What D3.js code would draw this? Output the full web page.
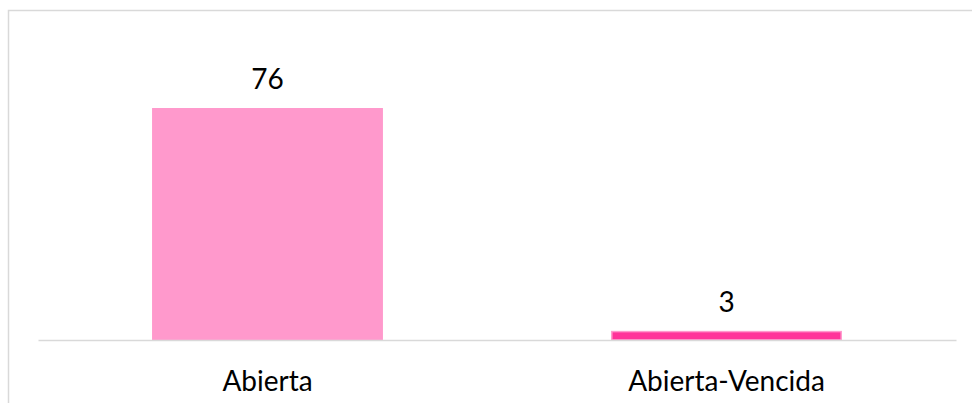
<!DOCTYPE html>
<html>
<head>
<meta charset="utf-8">
<script src="https://cdn.jsdelivr.net/npm/d3@7"></script>
<style>
html,body{margin:0;padding:0;background:#fff;}
svg{display:block;}
text{font-family:Lato,"Open Sans",sans-serif;fill:#000;}
</style>
</head>
<body>
<svg id="chart" width="972" height="403"></svg>
<script>
const categories = ["Abierta", "Abierta-Vencida"];
const values = [76, 3];
const fills = ["#ff99cc", "#ff3399"];
const strokes = ["#ff99cc", "#ff99cc"];

const W = 972, H = 403;
const svg = d3.select("#chart");

// outer chart border (extends past the viewport on right and bottom)
svg.append("rect")
  .attr("x", 8.5).attr("y", 10.5)
  .attr("width", 1000).attr("height", 500)
  .attr("fill", "none").attr("stroke", "#d9d9d9").attr("stroke-width", 1.5);

const plotLeft = 38, plotRight = 956, baseY = 340;
const x = d3.scaleBand().domain(categories).range([plotLeft, plotRight])
  .paddingInner(0.497).paddingOuter(0.2485);
const y = d3.scaleLinear().domain([0, 80]).range([baseY, baseY - 244.2]);

const g = svg.append("g");

g.selectAll("rect.bar").data(categories).join("rect")
  .attr("class", "bar")
  .attr("x", (d) => x(d) + 0.75)
  .attr("width", x.bandwidth() - 1.5)
  .attr("y", (d, i) => y(values[i]) + 0.75)
  .attr("height", (d, i) => y(0) - y(values[i]) - 0.75)
  .attr("fill", (d, i) => fills[i])
  .attr("stroke", (d, i) => strokes[i])
  .attr("stroke-width", 1.5);

// baseline axis
const axis = d3.axisBottom(x).tickSize(0).tickPadding(0);
const ax = svg.append("g").attr("transform", `translate(0,${baseY})`).call(axis);
ax.select(".domain").attr("stroke", "#d9d9d9").attr("stroke-width", 1.5);
ax.selectAll(".tick text")
  .attr("dy", null)
  .attr("y", 51)
  .style("font-size", "28px")
  .style("font-family", "Lato, 'Open Sans', sans-serif")
  .attr("fill", "#000");

// value labels
g.selectAll("text.val").data(categories).join("text")
  .attr("class", "val")
  .attr("x", (d) => x(d) + x.bandwidth() / 2)
  .attr("y", (d, i) => y(values[i]) - 19)
  .attr("text-anchor", "middle")
  .style("font-size", "28px")
  .text((d, i) => values[i]);
</script>
</body>
</html>
